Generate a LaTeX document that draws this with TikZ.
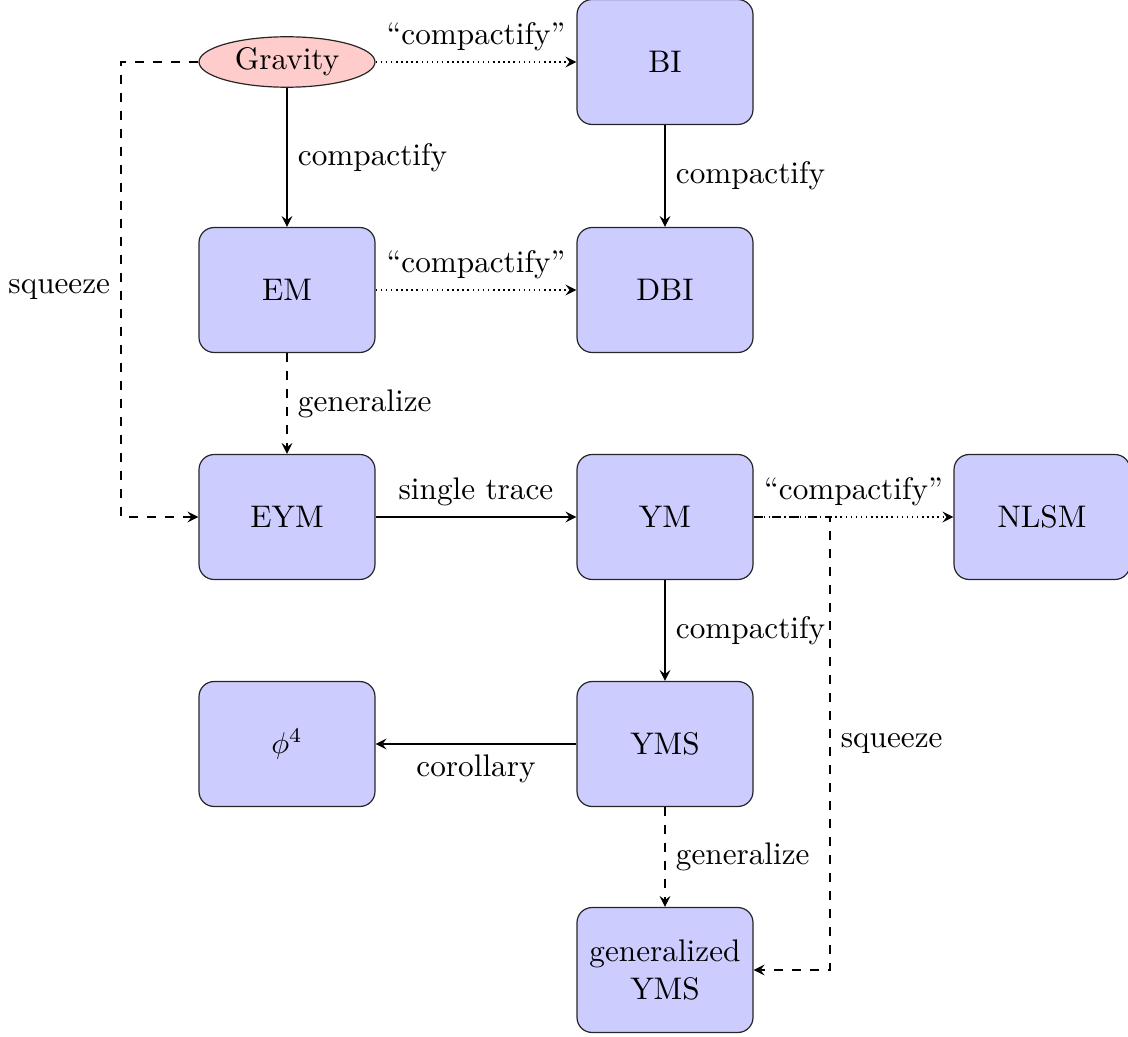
\documentclass[tikz,border=0pt]{standalone}
\usetikzlibrary{shapes.geometric,arrows}
\begin{document}
\begin{tikzpicture}[x=0.333pt,y=-0.333pt,>=stealth,
  every node/.style={font=\fontsize{10.4}{12.5}\selectfont},
  box/.style={draw=black!85,fill=blue!20,rounded corners=5pt,minimum width=58.6pt,minimum height=41.6pt,align=center,inner sep=1pt},
  grav/.style={draw=black!85,fill=red!20,ellipse,minimum width=58.6pt,minimum height=16.8pt,inner sep=1pt},
  conn/.style={->,semithick},
  dconn/.style={->,semithick,dashed},
  pconn/.style={->,semithick,dash pattern=on 0.5pt off 1.2pt},
  lbl/.style={}]
\useasboundingbox (0,0) rectangle (1128,1036);
\node[grav] (grav) at (287,62) {Gravity};
\node[box] (bi) at (665,62) {BI};
\node[box] (em) at (287,290) {EM};
\node[box] (dbi) at (665,290) {DBI};
\node[box] (eym) at (287,517) {EYM};
\node[box] (ym) at (665,517) {YM};
\node[box] (nlsm) at (1042,517) {NLSM};
\node[box] (phi) at (287,744) {$\phi^4$};
\node[box] (yms) at (665,744) {YMS};
\node[box] (gyms) at (665,970) {generalized\\YMS};
\coordinate (c1) at (121,62);
\coordinate (c2) at (121,517);
\coordinate (c3) at (830,517);
\coordinate (c4) at (830,970);
\draw[pconn] (grav) -- node[above,lbl]{``compactify''} (bi);
\draw[conn] (grav) -- node[right,lbl]{compactify} (em);
\draw[conn] (bi) -- node[right,lbl]{compactify} (dbi);
\draw[pconn] (em) -- node[above,lbl]{``compactify''} (dbi);
\draw[dconn] (em) -- node[right,lbl]{generalize} (eym);
\draw[conn] (eym) -- node[above,lbl]{single trace} (ym);
\draw[pconn] (ym) -- node[above,lbl]{``compactify''} (nlsm);
\draw[conn] (ym) -- node[right,lbl]{compactify} (yms);
\draw[conn] (yms) -- node[below,lbl]{corollary} (phi);
\draw[dconn] (yms) -- node[right,lbl]{generalize} (gyms);
\draw[dconn] (grav.west) -- (c1) -- node[left,lbl]{squeeze} (c2) -- (eym.west);
\draw[dconn] (ym.east) -- (c3) -- node[right,lbl,pos=0.5]{squeeze} (c4) -- (gyms.east);
\end{tikzpicture}
\end{document}
